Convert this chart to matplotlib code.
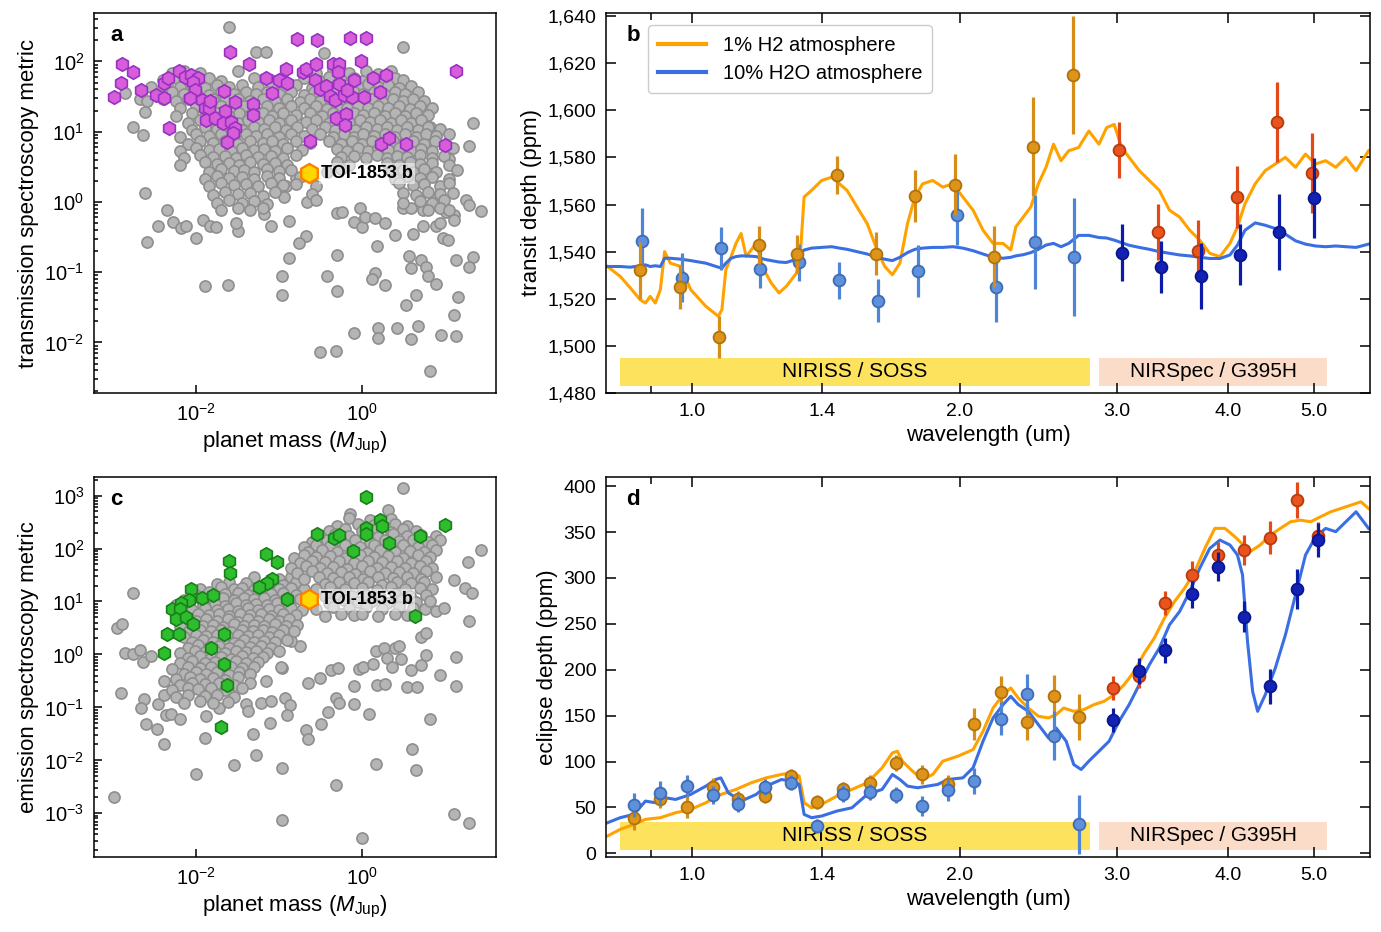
import numpy as np
import matplotlib.pyplot as plt
from matplotlib.ticker import FixedLocator, NullLocator, NullFormatter, LogLocator, FuncFormatter, MultipleLocator
from matplotlib.transforms import blended_transform_factory

plt.rcParams['font.family'] = ['Liberation Sans', 'DejaVu Sans']
plt.rcParams['mathtext.fontset'] = 'custom'
plt.rcParams['mathtext.rm'] = 'Liberation Sans'
plt.rcParams['mathtext.it'] = 'Liberation Sans:italic'
plt.rcParams['mathtext.bf'] = 'Liberation Sans:bold'

# ---------------- planet population (log10 mass [MJup], log10 metric) ----------------
a_grey = [
    (-1.60, 2.49), (0.50, 2.20), (-1.28, 2.14), (-1.16, 2.14), (-0.46, 2.12), (1.34, 1.13), (-2.76, 1.07),
    (-2.64, 0.95), (-2.62, 1.28), (-2.86, 1.55), (-2.68, 1.47), (1.30, 0.79), (0.84, 0.79), (1.06, 0.61),
    (0.82, 1.07), (-2.62, 0.12), (-2.36, -0.11), (-2.28, -0.29), (-2.46, -0.35), (-2.60, -0.57), (-2.18, -0.37),
    (-2.12, -0.35), (-2.00, -0.52), (-1.92, -0.26), (-1.84, -0.35), (-1.76, -0.36), (-1.50, -0.42), (-1.52, -0.30),
    (-1.18, -0.17), (-1.10, -0.34), (-0.88, -0.27), (-0.66, 0.00), (-0.80, 0.34), (-0.92, 0.22), (-0.94, 0.07),
    (-0.30, -0.16), (-0.24, -0.15), (-0.10, -0.28), (0.00, -0.36), (-0.02, -0.08), (0.04, -0.21), (0.16, -0.23),
    (0.28, -0.30), (0.40, -0.47), (0.62, -0.46), (0.50, -0.09), (0.60, -0.08), (0.74, -0.11), (0.90, 0.05),
    (1.26, 0.03), (1.30, -0.04), (1.44, -0.13), (1.02, -0.14), (1.12, -0.18), (1.12, -0.26), (0.90, -0.35),
    (0.98, -0.52), (1.04, -0.54), (0.94, -0.30), (0.74, -0.35), (0.18, -0.63), (-0.68, -0.49), (-0.76, -0.59),
    (-0.88, -0.80), (-0.96, -1.05), (-0.96, -1.32), (-0.42, -1.05), (-0.30, -0.75), (-0.30, -1.27), (0.16, -1.01),
    (0.12, -1.10), (0.28, -1.19), (0.57, -0.77), (0.60, -0.94), (0.72, -0.83), (0.78, -0.93), (0.80, -1.06),
    (0.90, -1.17), (1.14, -0.83), (1.34, -0.79), (1.30, -0.93), (1.16, -1.36), (1.12, -1.61), (0.54, -1.47),
    (0.66, -1.33), (-0.10, -1.86), (0.20, -1.80), (0.20, -1.94), (0.42, -1.80), (0.60, -1.95), (0.68, -1.76),
    (0.96, -1.89), (1.14, -1.91), (0.82, -2.41), (-0.51, -2.14), (-0.31, -2.13), (-1.89, -1.20), (-1.62, -1.18),
    (-2.3, 1.83), (-2.15, 1.87), (-1.95, 1.84), (-1.5, 1.86), (-0.55, 1.83), (-0.35, 1.88), (-0.15, 1.84),
    (0.05, 1.87), (0.2, 1.82), (0.35, 1.86),
    (-2.4, 1.73), (-2.25, 1.77), (-2.1, 1.74), (-1.85, 1.76), (-1.7, 1.72), (-1.3, 1.77), (-1.1, 1.73),
    (-0.7, 1.76), (-0.5, 1.72), (-0.4, 1.78), (-0.25, 1.74), (-0.1, 1.77), (0.0, 1.72), (0.12, 1.76),
    (0.25, 1.73), (0.4, 1.77), (0.5, 1.74),
    (-2.55, 1.63), (-2.35, 1.67), (-2.2, 1.64), (-2.05, 1.66), (-1.9, 1.62), (-1.75, 1.67), (-1.6, 1.64),
    (-1.45, 1.66), (-1.25, 1.63), (-1.1, 1.67), (-0.95, 1.64), (-0.8, 1.66), (-0.6, 1.62), (-0.45, 1.67),
    (-0.3, 1.63), (-0.2, 1.66), (-0.05, 1.64), (0.08, 1.68), (0.2, 1.63), (0.32, 1.66), (0.45, 1.62), (0.6, 1.65),
    (-2.45, 1.53), (-2.3, 1.57), (-2.15, 1.54), (-2.0, 1.56), (-1.85, 1.52), (-1.7, 1.57), (-1.55, 1.54),
    (-1.4, 1.56), (-1.28, 1.53), (-1.15, 1.57), (-1.0, 1.54), (-0.85, 1.56), (-0.7, 1.52), (-0.58, 1.57),
    (-0.45, 1.53), (-0.33, 1.56), (-0.22, 1.54), (-0.1, 1.57), (0.02, 1.53), (0.15, 1.56), (0.28, 1.52),
    (0.4, 1.57), (0.52, 1.54), (0.68, 1.56),
    (-2.6, 1.43), (-2.4, 1.47), (-2.25, 1.44), (-2.1, 1.46), (-1.95, 1.42), (-1.8, 1.47), (-1.65, 1.44),
    (-1.5, 1.46), (-1.35, 1.43), (-1.2, 1.47), (-1.05, 1.44), (-0.9, 1.46), (-0.75, 1.42), (-0.62, 1.47),
    (-0.5, 1.43), (-0.38, 1.46), (-0.25, 1.44), (-0.12, 1.47), (0.0, 1.43), (0.12, 1.46), (0.25, 1.42),
    (0.38, 1.47), (0.5, 1.44), (0.62, 1.46), (0.75, 1.43),
    (-2.2, 1.33), (-2.0, 1.37), (-1.85, 1.34), (-1.7, 1.36), (-1.55, 1.32), (-1.42, 1.37), (-1.3, 1.34),
    (-1.15, 1.36), (-1.0, 1.33), (-0.85, 1.37), (-0.7, 1.34), (-0.55, 1.36), (-0.42, 1.32), (-0.3, 1.37),
    (-0.18, 1.33), (-0.05, 1.36), (0.08, 1.34), (0.2, 1.37), (0.32, 1.33), (0.45, 1.36), (0.58, 1.32),
    (0.7, 1.37), (0.85, 1.34),
    (-2.25, 1.23), (-2.05, 1.27), (-1.9, 1.24), (-1.75, 1.26), (-1.6, 1.22), (-1.48, 1.27), (-1.35, 1.24),
    (-1.2, 1.26), (-1.08, 1.23), (-0.95, 1.27), (-0.8, 1.24), (-0.62, 1.26), (-0.48, 1.22), (-0.35, 1.27),
    (-0.22, 1.23), (-0.1, 1.26), (0.02, 1.24), (0.15, 1.27), (0.28, 1.23), (0.4, 1.26), (0.52, 1.22),
    (0.65, 1.27), (0.8, 1.24),
    (-2.1, 1.13), (-1.95, 1.17), (-1.8, 1.14), (-1.65, 1.16), (-1.5, 1.12), (-1.38, 1.17), (-1.25, 1.14),
    (-1.12, 1.16), (-1.0, 1.13), (-0.85, 1.17), (-0.68, 1.14), (-0.55, 1.16), (-0.4, 1.12), (-0.28, 1.17),
    (-0.15, 1.13), (-0.02, 1.16), (0.1, 1.14), (0.22, 1.17), (0.35, 1.13), (0.48, 1.16), (0.6, 1.12), (0.72, 1.17),
    (-2.05, 1.03), (-1.9, 1.07), (-1.75, 1.04), (-1.6, 1.06), (-1.45, 1.02), (-1.3, 1.07), (-1.18, 1.04),
    (-1.05, 1.06), (-0.92, 1.03), (-0.78, 1.07), (-0.6, 1.04), (-0.45, 1.06), (-0.32, 1.02), (-0.2, 1.07),
    (-0.08, 1.03), (0.05, 1.06), (0.18, 1.04), (0.3, 1.07), (0.42, 1.03), (0.55, 1.06), (0.68, 1.02),
    (0.8, 1.07), (0.95, 1.04),
    (-2.2, 0.93), (-2.0, 0.97), (-1.85, 0.94), (-1.7, 0.96), (-1.55, 0.92), (-1.4, 0.97), (-1.28, 0.94),
    (-1.15, 0.96), (-1.0, 0.93), (-0.85, 0.97), (-0.7, 0.94), (-0.5, 0.96), (-0.35, 0.92), (-0.22, 0.97),
    (-0.1, 0.93), (0.02, 0.96), (0.15, 0.94), (0.28, 0.97), (0.4, 0.93), (0.52, 0.96), (0.65, 0.92),
    (0.78, 0.97), (0.9, 0.94), (1.05, 0.96),
    (-2.1, 0.83), (-1.95, 0.87), (-1.8, 0.84), (-1.65, 0.86), (-1.5, 0.82), (-1.35, 0.87), (-1.2, 0.84),
    (-1.08, 0.86), (-0.95, 0.83), (-0.8, 0.87), (-0.62, 0.84), (-0.4, 0.86), (-0.25, 0.82), (-0.12, 0.87),
    (0.0, 0.83), (0.12, 0.86), (0.25, 0.84), (0.38, 0.87), (0.5, 0.83), (0.62, 0.86), (0.75, 0.82), (0.88, 0.87),
    (-2.2, 0.73), (-2.0, 0.77), (-1.85, 0.74), (-1.72, 0.76), (-1.58, 0.72), (-1.45, 0.77), (-1.3, 0.74),
    (-1.18, 0.76), (-1.05, 0.73), (-0.9, 0.77), (-0.72, 0.74), (-0.3, 0.76), (-0.18, 0.72), (-0.05, 0.77),
    (0.08, 0.73), (0.2, 0.76), (0.32, 0.74), (0.45, 0.77), (0.6, 0.73), (0.72, 0.76), (0.85, 0.72), (1.1, 0.77),
    (-2.15, 0.63), (-1.95, 0.67), (-1.8, 0.64), (-1.65, 0.66), (-1.52, 0.62), (-1.4, 0.67), (-1.25, 0.64),
    (-1.1, 0.66), (-0.95, 0.63), (-0.8, 0.67), (-0.25, 0.64), (-0.1, 0.66), (0.05, 0.62), (0.18, 0.67),
    (0.3, 0.63), (0.42, 0.66), (0.55, 0.64), (0.7, 0.67), (0.85, 0.63), (1.0, 0.66),
    (-2.2, 0.53), (-1.9, 0.57), (-1.75, 0.54), (-1.6, 0.56), (-1.48, 0.52), (-1.35, 0.57), (-1.2, 0.54),
    (-1.05, 0.56), (-0.9, 0.53), (-0.3, 0.57), (-0.15, 0.53), (0.3, 0.56), (0.45, 0.52), (0.58, 0.57),
    (0.7, 0.54), (0.85, 0.56), (1.05, 0.53),
    (-1.85, 0.43), (-1.7, 0.47), (-1.55, 0.44), (-1.42, 0.46), (-1.3, 0.42), (-1.15, 0.47), (-1.0, 0.44),
    (-0.85, 0.46), (-0.42, 0.43), (-0.25, 0.47), (0.35, 0.44), (0.5, 0.46), (0.62, 0.42), (0.75, 0.47),
    (0.9, 0.43), (1.15, 0.46),
    (-1.9, 0.33), (-1.75, 0.37), (-1.6, 0.34), (-1.45, 0.36), (-1.3, 0.32), (-1.15, 0.37), (-1.0, 0.34),
    (-0.75, 0.36), (0.4, 0.33), (0.55, 0.37), (0.7, 0.34), (0.85, 0.36), (1.05, 0.33),
    (-1.85, 0.23), (-1.7, 0.27), (-1.55, 0.24), (-1.4, 0.26), (-1.25, 0.22), (-1.1, 0.27), (-0.95, 0.24),
    (-0.8, 0.26), (-0.55, 0.23), (0.45, 0.27), (0.62, 0.24), (0.75, 0.26), (0.95, 0.22), (1.05, 0.27),
    (-1.8, 0.1), (-1.65, 0.14), (-1.5, 0.11), (-1.35, 0.13), (-1.2, 0.09), (-1.05, 0.14), (-0.6, 0.11),
    (0.5, 0.13), (0.65, 0.1), (0.8, 0.14), (0.95, 0.11), (1.1, 0.13),
    (-1.75, -0.02), (-1.6, 0.02), (-1.45, -0.01), (-1.3, 0.01), (-1.15, -0.03), (-0.55, 0.02), (0.5, -0.02),
    (0.7, 0.01), (0.85, -0.01), (1.0, 0.02),
    (-1.7, -0.12), (-1.5, -0.08), (-1.35, -0.11), (-1.2, -0.09), (0.8, -0.12), (0.95, -0.08), (1.05, -0.11),
]

a_purple = [
    (-2.90, 1.96), (-2.76, 1.85), (-2.91, 1.70), (-2.99, 1.49), (-2.67, 1.59), (-2.49, 1.52), (-2.39, 1.48),
    (-2.39, 1.69), (-2.34, 1.76), (-2.21, 1.86), (-2.14, 1.78), (-2.06, 1.80), (-1.98, 1.77), (-2.04, 1.71),
    (-2.02, 1.59), (-2.08, 1.48), (-1.93, 1.45), (-1.90, 1.33), (-1.85, 1.33), (-1.83, 1.44), (-1.88, 1.17),
    (-1.78, 1.19), (-1.66, 1.58), (-1.53, 1.42), (-1.65, 1.30), (-1.68, 1.12), (-1.58, 1.14), (-1.53, 1.05),
    (-1.56, 0.98), (-1.63, 0.85), (-2.33, 1.05), (-1.59, 2.13), (-1.36, 1.96), (-1.31, 1.40), (-1.32, 1.24),
    (-1.16, 1.76), (-1.08, 1.55), (-1.00, 1.73), (-0.92, 1.89), (-0.90, 1.69), (-0.78, 2.32), (-0.54, 2.30),
    (-0.71, 1.85), (-0.67, 1.89), (-0.57, 1.73), (-0.55, 1.97), (-0.50, 1.61), (-0.43, 1.65), (-0.38, 1.51),
    (-0.32, 1.45), (-0.35, 1.96), (-0.28, 1.97), (-0.29, 1.85), (-0.27, 1.68), (-0.22, 1.52), (-0.14, 2.33),
    (-0.10, 1.73), (-0.12, 1.49), (-0.18, 1.59), (0.05, 2.33), (-0.01, 2.00), (0.03, 1.49), (0.14, 1.76),
    (0.22, 1.57), (0.29, 1.81), (-0.31, 1.20), (-0.19, 1.25), (-0.20, 1.10), (-0.63, 0.87), (0.23, 0.83),
    (0.33, 0.91), (0.54, 0.83), (1.01, 0.81), (1.14, 1.87),
]

c_grey = [
    (0.50, 3.14), (0.32, 2.72), (-0.14, 2.66), (1.44, 1.98), (1.29, 1.75), (-2.76, 1.16), (-2.96, 0.50),
    (-2.90, 0.58), (-2.86, 0.03), (-2.77, 0.01), (-2.68, 0.08), (-2.64, -0.14), (-2.55, -0.03), (-2.91, -0.72),
    (-2.63, -0.85), (-2.67, -1.01), (-2.61, -1.32), (-2.48, -1.40), (-2.39, -1.70), (-2.46, -0.94), (-2.39, -0.50),
    (-2.39, -0.77), (-2.37, -1.15), (-2.31, -1.13), (-2.20, -1.21), (-2.00, -2.25), (-1.89, -1.57), (-1.88, -1.16),
    (-1.73, -1.01), (-1.55, -2.08), (-1.40, -0.94), (-1.38, -1.07), (-1.31, -1.51), (-1.28, -1.89), (-1.22, -0.91),
    (-1.16, -0.50), (-1.10, -0.88), (-1.11, -1.29), (-0.96, -2.14), (-0.97, -0.25), (-0.93, -0.83), (-0.87, -0.96),
    (-0.90, -1.14), (-0.68, -1.42), (-0.65, -1.60), (-0.65, -0.53), (-0.51, -0.45), (-0.49, -1.31), (-0.41, -1.08),
    (-0.37, -0.30), (-0.29, -0.25), (-0.31, -0.83), (-0.28, -0.91), (-0.31, -2.47), (-0.10, -0.60), (-0.09, -0.94),
    (0.09, -1.12), (0.17, -2.06), (-0.03, -0.28), (0.02, -0.24), (0.14, -0.18), (0.19, -0.57), (0.28, -0.55),
    (0.17, 0.06), (0.27, 0.13), (0.30, -0.06), (0.36, -0.24), (0.40, 0.13), (0.45, 0.16), (0.47, -0.09),
    (0.55, -0.62), (0.60, -0.30), (0.72, -0.20), (0.67, -0.62), (0.78, -0.01), (0.72, 0.33), (0.78, 0.41),
    (0.83, -1.21), (0.61, -1.79), (0.66, -2.19), (0.95, -0.39), (1.14, -0.05), (1.14, -0.60), (1.30, 0.63),
    (1.11, -3.01), (1.30, -3.19), (0.00, -3.46), (-0.96, -3.13), (-3.00, -2.69), (-0.75, 0.16), (-0.85, 0.25),
    (-0.98, -0.24), (0.76, 0.85), (0.90, 0.82), (1.00, 0.87), (1.25, 1.26), (1.33, 1.16), (1.11, 1.40),
    (-1.3, 1.47), (-1.0, 1.43), (-0.85, 1.46),
    (-1.75, 1.33), (-1.6, 1.37), (-1.4, 1.34), (-1.1, 1.36), (-0.95, 1.32), (-0.8, 1.37),
    (-1.95, 1.23), (-1.7, 1.27), (-1.55, 1.24), (-1.45, 1.26), (-1.3, 1.22), (-1.15, 1.27), (-1.0, 1.24),
    (-0.85, 1.26), (-0.7, 1.23),
    (-2.0, 1.13), (-1.85, 1.17), (-1.65, 1.14), (-1.5, 1.16), (-1.38, 1.12), (-1.25, 1.17), (-1.1, 1.14),
    (-0.95, 1.16), (-0.8, 1.13),
    (-2.15, 1.03), (-1.95, 1.07), (-1.8, 1.04), (-1.68, 1.06), (-1.55, 1.02), (-1.42, 1.07), (-1.3, 1.04),
    (-1.18, 1.06), (-1.05, 1.03), (-0.9, 1.07), (-0.75, 1.04),
    (-2.25, 0.93), (-2.1, 0.97), (-1.92, 0.94), (-1.78, 0.96), (-1.65, 0.92), (-1.52, 0.97), (-1.4, 0.94),
    (-1.28, 0.96), (-1.15, 0.93), (-1.02, 0.97), (-0.88, 0.94),
    (-2.05, 0.83), (-1.9, 0.87), (-1.75, 0.84), (-1.62, 0.86), (-1.5, 0.82), (-1.38, 0.87), (-1.25, 0.84),
    (-1.12, 0.86), (-1.0, 0.83), (-0.85, 0.87), (-0.72, 0.84),
    (-2.15, 0.73), (-1.98, 0.77), (-1.85, 0.74), (-1.72, 0.76), (-1.6, 0.72), (-1.47, 0.77), (-1.35, 0.74),
    (-1.22, 0.76), (-1.1, 0.73), (-0.95, 0.77), (-0.8, 0.74),
    (-2.0, 0.63), (-1.88, 0.67), (-1.75, 0.64), (-1.62, 0.66), (-1.5, 0.62), (-1.38, 0.67), (-1.25, 0.64),
    (-1.12, 0.66), (-1.0, 0.63), (-0.88, 0.67),
    (-2.2, 0.53), (-2.05, 0.57), (-1.92, 0.54), (-1.8, 0.56), (-1.68, 0.52), (-1.55, 0.57), (-1.42, 0.54),
    (-1.3, 0.56), (-1.18, 0.53), (-1.05, 0.57), (-0.92, 0.54), (-0.78, 0.56),
    (-2.1, 0.43), (-1.95, 0.47), (-1.82, 0.44), (-1.7, 0.46), (-1.58, 0.42), (-1.45, 0.47), (-1.32, 0.44),
    (-1.2, 0.46), (-1.08, 0.43), (-0.95, 0.47), (-0.82, 0.44),
    (-2.15, 0.33), (-2.0, 0.37), (-1.88, 0.34), (-1.75, 0.36), (-1.62, 0.32), (-1.5, 0.37), (-1.38, 0.34),
    (-1.25, 0.36), (-1.12, 0.33), (-1.0, 0.37),
    (-2.05, 0.23), (-1.92, 0.27), (-1.8, 0.24), (-1.68, 0.26), (-1.55, 0.22), (-1.42, 0.27), (-1.3, 0.24),
    (-1.18, 0.26), (-1.05, 0.23), (-0.9, 0.27),
    (-2.1, 0.13), (-1.98, 0.17), (-1.85, 0.14), (-1.72, 0.16), (-1.6, 0.12), (-1.48, 0.17), (-1.35, 0.14),
    (-1.22, 0.16), (-1.1, 0.13),
    (-2.2, 0.03), (-2.02, 0.07), (-1.9, 0.04), (-1.78, 0.06), (-1.65, 0.02), (-1.52, 0.07), (-1.4, 0.04),
    (-1.28, 0.06), (-1.15, 0.03), (-1.0, 0.07),
    (-2.1, -0.07), (-1.95, -0.03), (-1.82, -0.06), (-1.7, -0.04), (-1.58, -0.08), (-1.45, -0.03), (-1.32, -0.06),
    (-1.2, -0.04),
    (-2.2, -0.17), (-2.05, -0.13), (-1.9, -0.16), (-1.78, -0.14), (-1.65, -0.18), (-1.52, -0.13), (-1.4, -0.16),
    (-1.25, -0.14),
    (-2.3, -0.27), (-2.1, -0.23), (-1.95, -0.26), (-1.82, -0.24), (-1.7, -0.28), (-1.58, -0.23), (-1.45, -0.26),
    (-1.3, -0.24),
    (-2.15, -0.37), (-2.0, -0.33), (-1.88, -0.36), (-1.75, -0.34), (-1.6, -0.38), (-1.48, -0.33), (-1.35, -0.36),
    (-2.25, -0.47), (-2.08, -0.43), (-1.95, -0.46), (-1.8, -0.44), (-1.65, -0.48), (-1.5, -0.43),
    (-2.2, -0.57), (-2.05, -0.53), (-1.9, -0.56), (-1.72, -0.54), (-1.55, -0.58), (-1.35, -0.53),
    (-2.3, -0.67), (-2.1, -0.63), (-1.98, -0.66), (-1.82, -0.64), (-1.65, -0.68), (-1.45, -0.63),
    (-2.25, -0.8), (-2.1, -0.76), (-1.9, -0.79), (-1.75, -0.77), (-1.55, -0.8),
    (-2.15, -0.92), (-1.95, -0.88), (-1.8, -0.91), (-1.62, -0.89),
    (-0.15, 2.57), (0.1, 2.53), (0.35, 2.56),
    (-0.3, 2.43), (-0.05, 2.47), (0.15, 2.44), (0.4, 2.46), (0.55, 2.42),
    (-0.4, 2.33), (-0.2, 2.37), (0.0, 2.34), (0.18, 2.36), (0.35, 2.32), (0.5, 2.37), (0.65, 2.34),
    (-0.5, 2.23), (-0.32, 2.27), (-0.15, 2.24), (0.05, 2.26), (0.2, 2.22), (0.38, 2.27), (0.55, 2.24),
    (0.72, 2.26), (0.9, 2.23),
    (-0.6, 2.13), (-0.42, 2.17), (-0.25, 2.14), (-0.08, 2.16), (0.1, 2.12), (0.28, 2.17), (0.45, 2.14),
    (0.62, 2.16), (0.8, 2.13), (0.95, 2.17),
    (-0.7, 2.03), (-0.55, 2.07), (-0.38, 2.04), (-0.2, 2.06), (-0.02, 2.02), (0.15, 2.07), (0.32, 2.04),
    (0.5, 2.06), (0.68, 2.03), (0.85, 2.07),
    (-0.65, 1.93), (-0.48, 1.97), (-0.3, 1.94), (-0.12, 1.96), (0.06, 1.92), (0.22, 1.97), (0.4, 1.94),
    (0.58, 1.96), (0.75, 1.93), (0.9, 1.97),
    (-0.82, 1.83), (-0.7, 1.87), (-0.55, 1.84), (-0.38, 1.86), (-0.2, 1.82), (-0.02, 1.87), (0.15, 1.84),
    (0.32, 1.86), (0.5, 1.83), (0.68, 1.87), (0.82, 1.84),
    (-0.75, 1.73), (-0.6, 1.77), (-0.45, 1.74), (-0.28, 1.76), (-0.1, 1.72), (0.08, 1.77), (0.25, 1.74),
    (0.42, 1.76), (0.6, 1.73), (0.78, 1.77),
    (-0.85, 1.63), (-0.68, 1.67), (-0.5, 1.64), (-0.35, 1.66), (-0.18, 1.62), (0.0, 1.67), (0.18, 1.64),
    (0.35, 1.66), (0.52, 1.63), (0.7, 1.67), (0.85, 1.64),
    (-0.78, 1.53), (-0.6, 1.57), (-0.42, 1.54), (-0.25, 1.56), (-0.08, 1.52), (0.1, 1.57), (0.28, 1.54),
    (0.45, 1.56), (0.62, 1.53), (0.78, 1.57),
    (-0.7, 1.43), (-0.52, 1.47), (-0.35, 1.44), (-0.15, 1.46), (0.02, 1.42), (0.2, 1.47), (0.38, 1.44),
    (0.55, 1.46), (0.72, 1.43), (0.9, 1.47),
    (-0.45, 1.33), (-0.28, 1.37), (-0.1, 1.34), (0.08, 1.36), (0.25, 1.32), (0.42, 1.37), (0.6, 1.34), (0.75, 1.36),
    (-0.55, 1.23), (-0.38, 1.27), (-0.2, 1.24), (0.0, 1.26), (0.18, 1.22), (0.35, 1.27), (0.52, 1.24),
    (0.7, 1.26), (0.85, 1.23),
    (-0.45, 1.1), (-0.3, 1.14), (-0.12, 1.11), (0.05, 1.13), (0.22, 1.09), (0.4, 1.14), (0.58, 1.11), (0.78, 1.13),
    (-0.4, 0.98), (-0.22, 1.02), (-0.05, 0.99), (0.12, 1.01), (0.3, 0.97), (0.48, 1.02), (0.65, 0.99), (0.82, 1.01),
    (-0.55, 0.86), (-0.35, 0.9), (-0.15, 0.87), (0.05, 0.89), (0.25, 0.85), (0.45, 0.9), (0.62, 0.87),
    (-0.45, 0.73), (-0.25, 0.77), (-0.1, 0.74), (0.0, 0.76), (0.2, 0.72), (0.4, 0.77), (0.55, 0.74),
]

c_green = [
    (0.05, 2.97), (0.22, 2.53), (0.25, 2.43), (0.05, 2.39), (0.05, 2.28), (1.01, 2.45), (0.70, 2.23),
    (0.33, 2.10), (-0.54, 2.28), (-0.34, 2.19), (-0.27, 2.25), (-0.11, 1.95), (-1.16, 1.89), (-1.03, 1.75),
    (-1.60, 1.77), (-1.59, 1.54), (-1.08, 1.43), (-1.15, 1.35), (-1.24, 1.27), (-0.91, 1.04), (-2.06, 1.23),
    (-1.93, 1.06), (-1.80, 1.13), (-2.09, 1.03), (-2.19, 0.97), (-2.30, 0.85), (-2.20, 0.85), (-2.25, 0.67),
    (-2.13, 0.70), (-2.04, 0.58), (-2.36, 0.39), (-2.21, 0.39), (-2.39, 0.03), (-1.67, 0.38), (-1.82, 0.13),
    (-1.67, -0.18), (-1.63, -0.58), (-1.70, -1.37), (0.64, 0.72),
]

toi_mass = 0.23   # MJup
toi_tsm = 2.6
toi_esm = 11.0

# ---------------- spectra: data points (wavelength um, depth ppm, 1-sigma) ----------------
b_wl_h2 = [0.874, 0.968, 1.072, 1.188, 1.313, 1.454, 1.610, 1.782, 1.973, 2.182, 2.418, 2.678]
b_dep_h2 = [1532.0, 1525.0, 1503.8, 1542.7, 1538.9, 1572.4, 1539.2, 1563.6, 1568.4, 1537.9, 1584.5, 1614.8]
b_err_h2 = [12, 9.5, 9, 8, 8, 8, 9, 11, 13, 13, 21, 25]
b_wl_h2o = [0.879, 0.973, 1.077, 1.192, 1.320, 1.462, 1.618, 1.792, 1.984, 2.196, 2.428, 2.689]
b_dep_h2o = [1544.5, 1529.0, 1541.4, 1532.7, 1535.4, 1527.8, 1519.2, 1531.9, 1555.7, 1525.0, 1544.2, 1537.9]
b_err_h2o = [14, 10.5, 9, 8, 8, 8, 9, 11, 13, 15, 20, 25]
b_wl_h2_nrs = [3.019, 3.343, 3.706, 4.102, 4.542, 4.970]
b_dep_h2_nrs = [1583.1, 1548.4, 1540.4, 1563.2, 1595.2, 1573.4]
b_err_h2_nrs = [12, 12, 13, 13, 17, 17]
b_wl_h2o_nrs = [3.039, 3.365, 3.729, 4.129, 4.566, 5.003]
b_dep_h2o_nrs = [1539.6, 1533.5, 1529.5, 1538.7, 1548.3, 1562.7]
b_err_h2o_nrs = [12, 11, 14, 13, 16, 17]

d_wl = [0.860, 0.921, 0.986, 1.054, 1.127, 1.207, 1.291, 1.382, 1.479, 1.585, 1.694, 1.813, 1.940,
        2.076, 2.225, 2.381, 2.548, 2.719]
d_dep_h2 = [38.8, 59.4, 50.4, 72.5, 58.7, 62.3, 84.1, 55.8, 69.6, 76.8, 98.6, 85.9, 75.7,
            140.9, 175.7, 143.1, 171.7, 148.2]
d_err_h2 = [13, 10, 12, 10, 9, 8, 8, 8, 8, 8, 9, 10, 10, 17, 18, 20, 23, 25]
d_dep_h2o = [52.2, 65.9, 73.2, 63.4, 54.0, 72.1, 76.8, 29.7, 64.9, 67.0, 63.4, 51.4, 68.5,
             78.6, 146.4, 173.6, 128.3, 31.5]
d_err_h2o = [13, 13, 12, 10, 9, 9, 8, 8, 9, 9, 9, 11, 12, 14, 18, 22, 27, 32]
d_wl_nrs = [2.972, 3.181, 3.404, 3.642, 3.898, 4.172, 4.466, 4.786, 5.053]
d_dep_h2_nrs = [180.1, 192.8, 272.5, 303.3, 325.0, 330.4, 343.8, 384.8, 345.7]
d_err_h2_nrs = [13, 13, 13, 15, 14, 16, 18, 20, 15]
d_dep_h2o_nrs = [145.7, 198.9, 221.0, 282.2, 312.3, 258.0, 181.9, 287.7, 341.3]
d_err_h2o_nrs = [13, 14, 14, 15, 16, 17, 19, 22, 19]

# ---------------- spectra: model curves ----------------
mb_wl = [0.803, 0.830, 0.852, 0.874, 0.886, 0.897, 0.909, 0.921, 0.931, 0.945, 0.971, 0.996, 1.036, 1.070,
         1.080, 1.091, 1.106, 1.120, 1.135, 1.150, 1.180, 1.204, 1.227, 1.252, 1.276, 1.310, 1.324, 1.336,
         1.362, 1.398, 1.435, 1.464, 1.493, 1.532, 1.573, 1.614, 1.646, 1.679, 1.712, 1.746, 1.780, 1.816,
         1.864, 1.913, 1.963, 2.015, 2.069, 2.123, 2.179, 2.236, 2.281, 2.311, 2.356, 2.403, 2.450, 2.499,
         2.548, 2.598, 2.650, 2.719, 2.792, 2.866, 2.923, 2.981, 3.039, 3.099, 3.181, 3.265, 3.351, 3.440,
         3.531, 3.625, 3.720, 3.818, 3.920, 4.023, 4.102, 4.183, 4.295, 4.408, 4.524, 4.644, 4.767, 4.892,
         5.021, 5.154, 5.290, 5.430, 5.576, 5.759]
mb_h2 = [1533.7, 1529.5, 1524.6, 1519.6, 1518.2, 1521.0, 1518.2, 1523.9, 1540.0, 1535.1, 1533.7, 1523.9,
         1516.8, 1512.6, 1515.4, 1532.3, 1537.9, 1543.5, 1547.7, 1537.9, 1543.5, 1532.3, 1526.7, 1522.5,
         1525.3, 1530.9, 1540.7, 1563.2, 1566.0, 1570.2, 1571.6, 1568.8, 1566.0, 1559.0, 1551.9, 1540.7,
         1533.7, 1530.2, 1535.1, 1551.9, 1563.2, 1568.8, 1570.2, 1567.4, 1568.8, 1563.2, 1557.6, 1549.1,
         1543.5, 1543.5, 1540.7, 1550.5, 1554.7, 1559.0, 1568.8, 1575.8, 1585.6, 1578.6, 1582.8, 1584.2,
         1591.2, 1585.6, 1592.6, 1594.0, 1584.2, 1580.0, 1574.4, 1570.2, 1566.0, 1557.6, 1554.7, 1549.1,
         1544.9, 1539.3, 1537.9, 1543.5, 1550.5, 1560.4, 1568.8, 1574.4, 1577.2, 1580.0, 1575.8, 1581.4,
         1577.2, 1578.6, 1575.8, 1580.0, 1574.4, 1582.8]
mb_h2o = [1533.7, 1533.7, 1533.4, 1534.0, 1534.4, 1533.7, 1534.0, 1533.7, 1537.2, 1537.2, 1536.8, 1536.2,
          1535.1, 1533.4, 1533.0, 1535.1, 1537.2, 1537.9, 1538.2, 1538.2, 1537.9, 1536.8, 1536.2, 1535.6,
          1535.4, 1536.8, 1539.3, 1540.7, 1541.5, 1541.8, 1542.1, 1541.5, 1541.0, 1540.0, 1539.0, 1537.6,
          1536.8, 1536.2, 1537.6, 1539.6, 1541.0, 1541.5, 1541.8, 1541.8, 1542.1, 1541.5, 1540.4, 1539.0,
          1537.6, 1537.2, 1537.6, 1538.2, 1538.7, 1539.6, 1541.0, 1542.8, 1543.5, 1542.1, 1543.5, 1546.9,
          1546.9, 1546.0, 1545.8, 1544.9, 1543.8, 1542.7, 1541.8, 1541.0, 1540.0, 1539.3, 1538.6, 1538.2,
          1537.6, 1537.1, 1537.1, 1538.6, 1542.8, 1549.1, 1552.2, 1551.2, 1549.8, 1547.4, 1544.6, 1543.2,
          1542.4, 1542.1, 1542.4, 1542.1, 1541.8, 1543.2]

md_wl_h2 = [0.803, 0.830, 0.860, 0.886, 0.921, 0.958, 0.996, 1.036, 1.077, 1.120, 1.165, 1.211, 1.260,
            1.293, 1.319, 1.336, 1.362, 1.398, 1.454, 1.512, 1.573, 1.635, 1.679, 1.701, 1.723, 1.769,
            1.816, 1.864, 1.913, 1.989, 2.069, 2.123, 2.179, 2.236, 2.281, 2.326, 2.387, 2.450, 2.515,
            2.565, 2.616, 2.685, 2.755, 2.829, 2.904, 2.981, 3.059, 3.140, 3.223, 3.307, 3.395, 3.485,
            3.577, 3.672, 3.770, 3.868, 3.971, 4.075, 4.183, 4.238, 4.350, 4.466, 4.584, 4.705, 4.829,
            4.956, 5.087, 5.222, 5.360, 5.502, 5.647, 5.759]
md_h2 = [18.8, 26.1, 31.5, 37.0, 38.8, 44.2, 47.8, 55.1, 64.1, 69.6, 76.8, 82.2, 85.9, 87.7, 84.1, 55.1,
         49.6, 53.3, 62.3, 69.6, 76.8, 93.1, 109.4, 111.2, 100.4, 89.5, 80.4, 85.9, 100.4, 105.8, 113.0,
         133.0, 158.3, 172.8, 180.1, 169.2, 158.3, 149.3, 147.5, 151.1, 158.3, 154.7, 156.5, 162.0, 165.6,
         172.8, 183.7, 198.2, 218.1, 234.4, 256.2, 274.3, 288.8, 306.9, 332.2, 354.0, 354.0, 344.9, 334.1,
         328.6, 335.9, 346.7, 354.0, 361.2, 363.0, 361.2, 366.7, 372.1, 375.7, 379.3, 383.0, 375.7]
md_wl_h2o = [0.803, 0.830, 0.860, 0.886, 0.909, 0.933, 0.958, 0.996, 1.036, 1.063, 1.077, 1.098, 1.135,
             1.180, 1.211, 1.260, 1.293, 1.319, 1.336, 1.362, 1.398, 1.454, 1.512, 1.573, 1.635, 1.679,
             1.712, 1.746, 1.792, 1.839, 1.888, 1.938, 2.015, 2.069, 2.123, 2.179, 2.236, 2.281, 2.326,
             2.387, 2.450, 2.515, 2.565, 2.633, 2.685, 2.737, 2.792, 2.866, 2.942, 3.019, 3.099, 3.181,
             3.265, 3.351, 3.440, 3.531, 3.625, 3.720, 3.818, 3.920, 4.023, 4.102, 4.156, 4.210, 4.266,
             4.322, 4.408, 4.524, 4.644, 4.767, 4.892, 5.021, 5.154, 5.290, 5.430, 5.576, 5.759]
md_h2o = [33.3, 38.8, 42.4, 56.9, 55.1, 60.5, 58.7, 64.1, 73.2, 80.4, 82.2, 65.9, 56.9, 64.1, 73.2, 80.4,
          78.6, 75.0, 42.4, 38.8, 40.6, 46.0, 49.6, 64.1, 69.6, 85.9, 80.4, 73.2, 71.4, 73.2, 75.0, 80.4,
          82.2, 93.1, 122.1, 147.5, 162.0, 171.0, 162.0, 154.7, 140.2, 125.7, 136.6, 122.1, 96.7, 91.3,
          100.4, 111.2, 122.1, 143.8, 162.0, 183.7, 205.4, 223.6, 248.9, 263.4, 285.1, 310.5, 332.2, 341.3,
          335.9, 325.0, 303.3, 230.8, 176.4, 154.7, 172.8, 201.8, 238.0, 281.5, 325.0, 344.9, 354.0, 350.4,
          361.2, 372.1, 354.0]

niriss_range = (0.83, 2.80)
nirspec_range = (2.87, 5.17)

# ---------------- colours ----------------
ORANGE = '#ffa200'
BLUE = '#3a6fe3'
GREY_FC, GREY_EC = '#b5b5b5', '#8e8e8e'

fig = plt.figure(figsize=(13.81, 9.32), dpi=100)
ax_a = fig.add_axes([0.0681, 0.5783, 0.2911, 0.4078])
ax_b = fig.add_axes([0.4388, 0.5783, 0.5532, 0.4078])
ax_c = fig.add_axes([0.0681, 0.0805, 0.2911, 0.4077])
ax_d = fig.add_axes([0.4388, 0.0805, 0.5532, 0.4077])


def population(ax, grey, special, sp_fc, sp_ec, toi_y, ylim, ylabel, letter):
    g = 10 ** np.array(grey)
    s = 10 ** np.array(special)
    ax.scatter(g[:, 0], g[:, 1], s=64, fc=GREY_FC, ec=GREY_EC, lw=1.2, zorder=2)
    ax.scatter(s[:, 0], s[:, 1], s=95, marker='h', fc=sp_fc, ec=sp_ec, lw=1.2, zorder=5)
    ax.scatter([toi_mass], [toi_y], s=190, marker='h', fc='#ffd700', ec='#ff7f00', lw=1.7, zorder=6)
    ax.text(toi_mass * 1.4, toi_y * 0.97, 'TOI-1853 b', fontsize=13, fontweight='bold', va='center',
            ha='left', zorder=4, bbox=dict(fc='white', ec='none', alpha=0.55, pad=1.5))
    ax.set_xscale('log')
    ax.set_yscale('log')
    ax.set_xlim(5.8e-4, 42)
    ax.set_ylim(*ylim)
    ax.xaxis.set_major_locator(FixedLocator([1e-2, 1e0]))
    ax.xaxis.set_minor_locator(NullLocator())
    ax.yaxis.set_major_locator(LogLocator(base=10, numticks=20))
    ax.yaxis.set_minor_locator(LogLocator(base=10, subs=np.arange(2, 10), numticks=20))
    ax.yaxis.set_minor_formatter(NullFormatter())
    ax.tick_params(which='both', direction='in', labelsize=14.5, width=1.1)
    ax.tick_params(which='major', length=6, pad=7)
    ax.tick_params(which='minor', length=3)
    ax.set_xlabel('planet mass ($M_{\\rm Jup}$)', fontsize=16)
    ax.set_ylabel(ylabel, fontsize=16)
    ax.text(0.04, 0.94, letter, transform=ax.transAxes, fontsize=16, fontweight='bold', va='center')
    for sp in ax.spines.values():
        sp.set_linewidth(1.1)


population(ax_a, a_grey, a_purple, '#d65fd9', '#9a2fc4', toi_tsm, (1.9e-3, 490),
           'transmission spectroscopy metric', 'a')
population(ax_c, c_grey, c_green, '#2dbd2d', '#1a7f1a', toi_esm, (1.5e-4, 2240),
           'emission spectroscopy metric', 'c')


def spectrum_axes(ax, ylim, ylabel, letter, yfmt):
    ax.set_xscale('log')
    ax.set_xlim(0.80, 5.78)
    ax.set_ylim(*ylim)
    ax.xaxis.set_major_locator(FixedLocator([1.0, 1.4, 2.0, 3.0, 4.0, 5.0]))
    ax.xaxis.set_major_formatter(FuncFormatter(lambda v, p: f'{v:.1f}'))
    ax.xaxis.set_minor_locator(FixedLocator([0.9]))
    ax.xaxis.set_minor_formatter(NullFormatter())
    ax.yaxis.set_major_formatter(FuncFormatter(yfmt))
    ax.tick_params(which='both', direction='in', top=True, right=True, labelsize=14, width=1.1)
    ax.tick_params(which='major', length=7, pad=7)
    ax.tick_params(which='minor', length=5)
    ax.set_xlabel('wavelength (um)', fontsize=16)
    ax.set_ylabel(ylabel, fontsize=16)
    ax.text(0.027, 0.94, letter, transform=ax.transAxes, fontsize=16, fontweight='bold', va='center')
    tr = blended_transform_factory(ax.transData, ax.transAxes)
    ax.axvspan(*niriss_range, ymin=0.018, ymax=0.092, fc='#fde25e', ec='none', zorder=0)
    ax.axvspan(*nirspec_range, ymin=0.018, ymax=0.092, fc='#fbdcc8', ec='none', zorder=0)
    ax.text(np.sqrt(niriss_range[0] * niriss_range[1]), 0.056, 'NIRISS / SOSS', transform=tr,
            ha='center', va='center', fontsize=15, zorder=1)
    ax.text(np.sqrt(nirspec_range[0] * nirspec_range[1]), 0.056, 'NIRSpec / G395H', transform=tr,
            ha='center', va='center', fontsize=15, zorder=1)
    for sp in ax.spines.values():
        sp.set_linewidth(1.1)


def points(ax, x, y, e, fc, ec, lc, z):
    ax.errorbar(x, y, yerr=e, fmt='o', ms=8.5, mfc=fc, mec=ec, mew=1.3, ecolor=lc, elinewidth=2.3,
                capsize=0, zorder=z)


# panel b
ax_b.plot(mb_wl, mb_h2, color=ORANGE, lw=2.2, zorder=2, label='1% H2 atmosphere')
ax_b.plot(mb_wl, mb_h2o, color=BLUE, lw=2.2, zorder=2, label='10% H2O atmosphere')
points(ax_b, b_wl_h2o, b_dep_h2o, b_err_h2o, '#5e90dc', '#3f6cb5', '#4f85d6', 3)
points(ax_b, b_wl_h2, b_dep_h2, b_err_h2, '#de9419', '#b0720e', '#d68e18', 4)
points(ax_b, b_wl_h2_nrs, b_dep_h2_nrs, b_err_h2_nrs, '#ea531c', '#b53b10', '#e24a1a', 4)
points(ax_b, b_wl_h2o_nrs, b_dep_h2o_nrs, b_err_h2o_nrs, '#1122b5', '#0a168c', '#0d1ca8', 5)
spectrum_axes(ax_b, (1480, 1641.3), 'transit depth (ppm)', 'b', lambda v, p: f'{v:,.0f}')
ax_b.yaxis.set_major_locator(MultipleLocator(20))
leg = ax_b.legend(loc='upper left', bbox_to_anchor=(0.055, 0.967), borderaxespad=0, fontsize=14.5,
                  handlelength=2.4, frameon=True, fancybox=True, framealpha=1, edgecolor='#cccccc',
                  borderpad=0.5, labelspacing=0.45)
for h in leg.get_lines():
    h.set_linewidth(3.0)

# panel d
ax_d.plot(md_wl_h2, md_h2, color=ORANGE, lw=2.2, zorder=2)
ax_d.plot(md_wl_h2o, md_h2o, color=BLUE, lw=2.2, zorder=2)
points(ax_d, d_wl, d_dep_h2, d_err_h2, '#de9419', '#b0720e', '#d68e18', 3)
points(ax_d, d_wl, d_dep_h2o, d_err_h2o, '#5e90dc', '#3f6cb5', '#4f85d6', 4)
points(ax_d, d_wl_nrs, d_dep_h2_nrs, d_err_h2_nrs, '#ea531c', '#b53b10', '#e24a1a', 3)
points(ax_d, d_wl_nrs, d_dep_h2o_nrs, d_err_h2o_nrs, '#1122b5', '#0a168c', '#0d1ca8', 4)
spectrum_axes(ax_d, (-4, 410), 'eclipse depth (ppm)', 'd', lambda v, p: f'{v:.0f}')
ax_d.yaxis.set_major_locator(MultipleLocator(50))

fig.savefig('out.png', dpi=100)
